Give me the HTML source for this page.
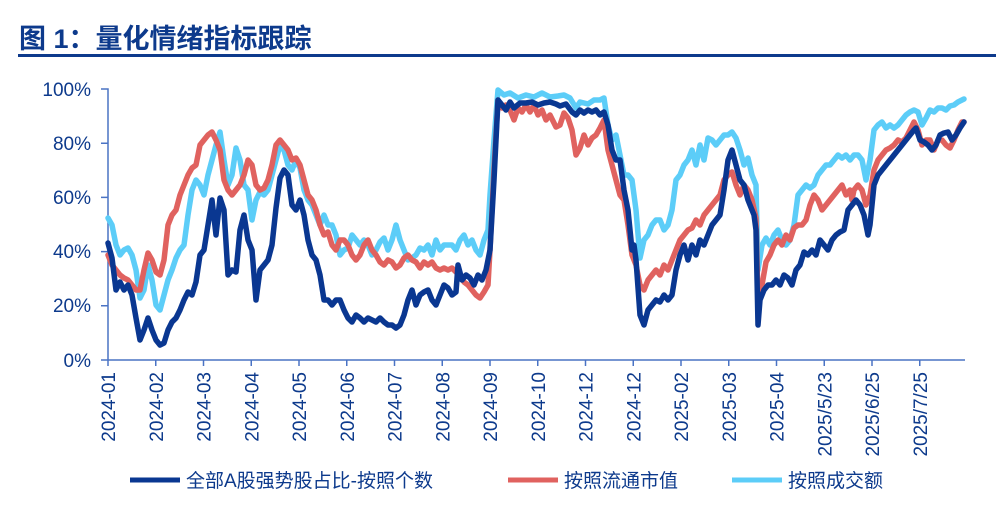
<!DOCTYPE html>
<html><head><meta charset="utf-8"><style>
body{margin:0;background:#fff;width:996px;height:519px;overflow:hidden}
svg text{font-family:"Liberation Sans","Noto Sans CJK SC",sans-serif}
</style></head><body>
<svg width="996" height="519" viewBox="0 0 996 519" xmlns="http://www.w3.org/2000/svg">
<rect width="996" height="519" fill="#fff"/>
<text x="19" y="48" font-size="27" font-weight="bold" fill="#0d3a8c">图 1：量化情绪指标跟踪</text>
<rect x="18" y="54" width="978" height="3" fill="#0d3a8c"/>
<g font-size="19" fill="#0d3a8c" text-anchor="end">
<text x="91" y="96">100%</text><text x="91" y="150">80%</text><text x="91" y="204">60%</text>
<text x="91" y="258">40%</text><text x="91" y="312">20%</text><text x="91" y="367">0%</text>
</g>
<g stroke="#4a73c4" stroke-width="1.5" fill="none">
<path d="M101 89H108V360M101 143.2H108M101 197.4H108M101 251.6H108M101 305.8H108M101 360H108"/>
<path d="M108 360H965"/>
</g>
<g id="ticks" stroke="#4a73c4" stroke-width="1.5"></g>
<g id="xl" font-size="19" fill="#0d3a8c"></g>
<g fill="none" stroke-width="5.5" stroke-linejoin="round" stroke-linecap="round">
<polyline id="L" stroke="#5ccdf8" points="108,218 112,225 116,245 120,255 124,250 128,248 132,255 136,270 140,298 144,290 148,265 152,280 156,305 160,310 164,295 168,280 172,270 176,258 180,250 184,245 188,215 192,190 196,180 200,185 204,195 208,175 212,160 216,145 220,132 224,160 228,185 232,175 236,148 240,160 244,185 248,190 252,220 256,200 260,192 264,195 268,190 272,175 276,160 280,145 284,150 288,165 292,170 296,160 300,168 304,190 308,200 312,205 316,215 320,225 324,215 328,225 332,225 336,235 340,255 344,250 348,248 352,235 356,240 360,245 364,240 368,245 372,255 376,250 380,242 384,238 388,250 392,240 396,225 400,240 404,250 408,260 412,258 416,255 420,248 424,250 428,245 432,255 436,240 440,250 444,245 448,245 452,245 456,250 460,240 464,235 468,245 472,240 476,250 480,255 484,240 488,230 490,195 494,140 498,90 504,95 510,93 518,98 526,95 534,97 542,93 550,97 558,96 564,95 570,98 576,108 580,102 588,104 594,100 600,100 604,98 608,125 612,140 616,135 620,155 624,175 628,175 632,180 636,210 640,258 644,240 648,235 652,225 656,220 660,220 664,230 668,225 672,210 676,180 680,175 684,165 688,160 692,150 696,165 700,145 704,160 708,138 712,140 716,145 720,140 724,135 728,135 732,132 736,138 740,150 744,165 748,158 752,175 756,185 758,270 762,245 766,238 770,245 774,235 778,230 782,240 786,245 790,240 794,225 798,195 802,190 806,185 810,188 814,185 818,175 822,170 826,165 830,165 834,160 838,155 842,158 846,155 850,160 854,155 858,155 862,160 866,180 870,160 874,130 878,125 882,122 886,128 890,125 894,128 898,125 902,120 906,115 910,112 914,110 918,112 922,125 926,118 930,110 934,112 938,108 942,108 946,110 950,106 954,105 958,102 962,100 964,99"/>
<polyline id="R" stroke="#e0625f" points="108,255 112,265 116,270 120,275 124,278 128,280 132,285 136,290 140,290 144,270 148,253 152,260 156,272 160,275 164,260 168,225 172,215 176,210 180,195 184,185 188,175 192,168 196,165 200,145 204,140 208,135 212,132 216,140 220,150 224,180 228,190 232,195 236,190 240,185 244,175 248,160 252,165 256,185 260,190 264,188 268,180 272,165 276,145 280,140 284,145 288,150 292,160 296,158 300,165 304,180 308,195 312,200 316,210 320,225 324,235 328,232 332,245 336,250 340,240 344,240 348,245 352,255 356,260 360,255 364,245 368,240 372,250 376,255 380,262 384,265 388,260 392,262 396,268 400,265 404,258 408,255 412,260 416,262 420,268 424,262 428,265 432,262 436,268 440,270 444,268 448,270 452,268 456,272 460,275 464,282 468,285 472,290 476,295 480,298 484,292 488,285 490,250 494,170 498,100 502,108 506,105 510,110 514,120 518,108 522,112 526,105 530,112 534,105 538,115 542,110 546,120 550,115 556,127 560,125 564,113 568,118 572,130 576,155 580,148 584,135 588,145 592,138 596,135 600,128 604,120 608,150 612,165 616,180 620,195 624,200 628,225 632,255 636,265 640,285 644,290 648,280 652,275 656,270 660,275 664,265 668,270 672,260 676,250 680,240 684,235 688,230 692,228 696,220 700,225 704,215 708,210 712,205 716,200 720,195 724,180 728,175 732,172 736,185 740,195 744,185 748,190 752,200 756,218 758,300 762,285 766,262 770,255 774,245 778,240 782,245 786,235 790,240 794,228 798,225 802,225 806,220 810,205 814,195 818,200 822,210 826,205 830,200 834,195 838,190 842,185 846,195 850,190 852,200 854,190 858,185 862,190 866,205 870,195 874,170 878,160 882,155 886,150 890,148 894,145 898,140 902,142 906,138 910,130 914,122 918,130 922,145 926,140 930,140 934,150 938,140 942,140 946,145 950,148 954,140 958,130 962,122 964,122"/>
<polyline id="D" stroke="#0a3791" points="108,243 112,258 116,290 120,282 124,290 128,285 132,295 136,318 140,340 144,330 148,318 152,330 156,340 160,345 164,343 168,330 172,322 176,318 180,310 184,300 188,292 192,295 196,282 200,255 204,250 208,225 212,200 216,235 220,198 224,210 228,275 232,270 236,272 240,230 244,215 248,240 252,250 256,300 260,270 264,265 268,260 272,245 276,208 280,178 284,170 288,175 292,205 296,210 300,200 304,215 308,240 312,255 316,260 320,275 324,300 328,300 332,305 336,300 340,300 344,310 348,318 352,322 356,315 360,318 364,322 368,318 372,320 376,322 380,318 384,322 388,325 392,325 396,328 400,325 404,315 408,300 412,290 416,305 420,295 424,292 428,290 432,300 436,305 440,295 444,285 448,288 452,295 456,292 458,265 462,280 466,275 470,278 474,285 478,275 482,280 486,270 490,250 494,180 498,100 502,105 506,110 510,102 514,108 520,103 526,103 532,102 538,105 544,103 550,102 556,104 560,106 566,104 572,112 576,115 580,110 584,113 588,110 592,112 596,110 600,115 604,112 608,125 612,150 616,160 620,160 624,190 628,210 632,250 634,245 636,260 640,315 644,325 648,310 652,305 656,300 660,302 664,295 668,300 672,295 676,270 680,255 684,245 688,260 692,245 696,255 700,240 704,245 708,235 712,225 716,220 720,215 724,190 728,160 732,150 736,165 740,180 744,185 748,200 752,210 754,215 756,230 758,325 760,300 764,290 768,285 772,285 776,280 780,285 784,275 788,278 792,285 796,270 800,265 804,252 808,255 812,250 816,255 820,240 824,245 828,250 832,240 836,235 840,232 844,230 848,210 852,205 856,200 860,205 864,215 868,235 870,225 874,185 878,175 882,170 886,165 890,160 894,155 898,150 902,145 906,140 910,135 914,130 916,128 920,140 924,142 928,145 932,150 936,145 940,135 944,133 948,132 952,140 956,135 960,128 964,122"/>
</g>
<g font-size="19" fill="#0d3a8c">
<line x1="130" y1="480" x2="180" y2="480" stroke="#0a3791" stroke-width="5"/>
<text x="186" y="487">全部A股强势股占比-按照个数</text>
<line x1="508" y1="480" x2="558" y2="480" stroke="#e0625f" stroke-width="5"/>
<text x="564" y="487">按照流通市值</text>
<line x1="732" y1="480" x2="782" y2="480" stroke="#5ccdf8" stroke-width="5"/>
<text x="788" y="487">按照成交额</text>
</g>
<script>
var labs=["2024-01","2024-02","2024-03","2024-04","2024-05","2024-06","2024-07","2024-08","2024-09","2024-10","2024-12","2024-12","2025-02","2025-03","2025-04","2025/5/23","2025/6/25","2025/7/25"];
var t=document.getElementById("ticks"),g=document.getElementById("xl"),ns="http://www.w3.org/2000/svg";
labs.forEach(function(s,i){var x=108+47.75*i;
var l=document.createElementNS(ns,"line");l.setAttribute("x1",x);l.setAttribute("x2",x);l.setAttribute("y1",360);l.setAttribute("y2",366);t.appendChild(l);
var tx=document.createElementNS(ns,"text");tx.setAttribute("transform","translate("+(x+7)+",372) rotate(-90)");tx.setAttribute("text-anchor","end");tx.textContent=s;g.appendChild(tx);});
</script>
</svg>
</body></html>
